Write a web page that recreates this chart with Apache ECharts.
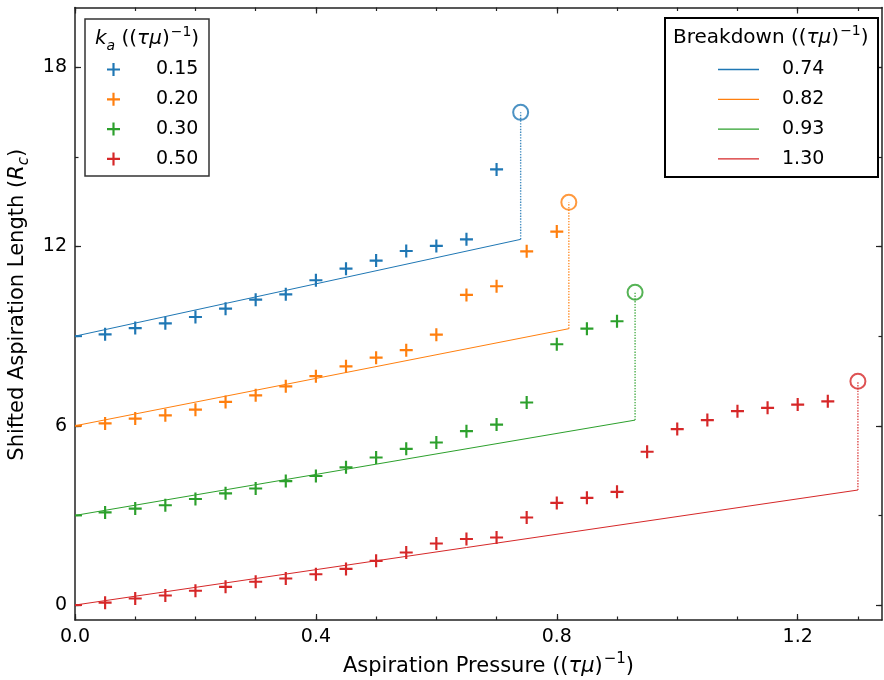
<!DOCTYPE html>
<html lang="en">
<head>
<meta charset="UTF-8">
<title>Shifted aspiration length</title>
<script src="https://cdn.jsdelivr.net/npm/echarts@6/dist/echarts.min.js"></script>
<style>
    body {
        margin: 0;
        padding: 0;
        background-color: #fff;
    }
    #chart {
        width: 884px;
        height: 680px;
    }
</style>
</head>
<body>
<div id="chart"></div>
<script>
// aspiration pressure, ((tau mu)^-1)
var pressure = [0.00, 0.05, 0.10, 0.15, 0.20, 0.25, 0.30, 0.35, 0.40, 0.45, 0.50, 0.55, 0.60,
                0.65, 0.70, 0.75, 0.80, 0.85, 0.90, 0.95, 1.00, 1.05, 1.10, 1.15, 1.20, 1.25];

// shifted aspiration length per k_a
var kaNames = ['0.15', '0.20', '0.30', '0.50'];
var lenKa015 = [9.00, 9.06, 9.27, 9.43, 9.64, 9.92, 10.22, 10.40, 10.87, 11.26, 11.53, 11.85, 12.02, 12.24, 14.58];
var lenKa020 = [6.00, 6.08, 6.24, 6.35, 6.54, 6.80, 7.02, 7.32, 7.66, 7.99, 8.28, 8.53, 9.05, 10.38, 10.67, 11.84, 12.50];
var lenKa030 = [3.00, 3.10, 3.23, 3.34, 3.55, 3.74, 3.90, 4.15, 4.32, 4.61, 4.94, 5.23, 5.44, 5.82, 6.04, 6.78, 8.73, 9.25, 9.50];
var lenKa050 = [0.00, 0.08, 0.22, 0.32, 0.48, 0.61, 0.78, 0.89, 1.03, 1.21, 1.48, 1.76, 2.06, 2.21, 2.26, 2.93, 3.42,
                3.59, 3.79, 5.13, 5.89, 6.19, 6.49, 6.60, 6.71, 6.82];
var lengths = [lenKa015, lenKa020, lenKa030, lenKa050];

// breakdown pressure, linear fit ends, breakdown length
var breakdownNames = ['0.74', '0.82', '0.93', '1.30'];
var breakdownP = [0.74, 0.82, 0.93, 1.30];
var fitStart = [9.00, 6.00, 3.00, 0.00];
var fitEnd = [12.24, 9.25, 6.19, 3.85];
var breakdownLen = [16.49, 13.48, 10.47, 7.49];

// ticks
var xMajor = [0, 0.4, 0.8, 1.2];
var xMinor = [0, 0.1, 0.2, 0.3, 0.4, 0.5, 0.6, 0.7, 0.8, 0.9, 1.0, 1.1, 1.2, 1.3];
var yMajor = [0, 6, 12, 18];
var yMinor = [0, 3, 6, 9, 12, 15, 18];

var colors = ['#1f77b4', '#ff7f0e', '#2ca02c', '#d62728'];
var font = 'DejaVu Sans';
var fs = 19;
var plusPath = 'path://M5,0H7V5H12V7H7V12H5V7H0V5H5Z';

function makeRich(size, key) {
    var sm = Math.round(size * 0.7);
    var st = {};
    st[key] = '#000';
    return {
        n: Object.assign({fontSize: size, fontFamily: font, lineHeight: size + 8}, st),
        i: Object.assign({fontSize: size, fontFamily: font, fontStyle: 'italic', lineHeight: size + 8}, st),
        sup: Object.assign({fontSize: sm, fontFamily: font, verticalAlign: 'top', lineHeight: sm, padding: [0, 0, 0, 1]}, st),
        sub: Object.assign({fontSize: sm, fontFamily: font, fontStyle: 'italic', verticalAlign: 'bottom', lineHeight: sm}, st)
    };
}
var nameRich = makeRich(21, 'color');
var titleRich = makeRich(20, 'fill');

function axis(pos, min, max, ticks, len, withLine, labels) {
    return {
        type: 'value',
        position: pos,
        min: min,
        max: max,
        splitLine: {show: false},
        axisLine: {show: withLine, onZero: false, lineStyle: {color: '#222', width: 1.5}},
        axisTick: {show: true, inside: true, length: len, customValues: ticks,
                   lineStyle: {color: '#222', width: 1.2}},
        axisLabel: labels ? {
            show: true, customValues: labels, margin: 8, color: '#000', fontSize: fs, fontFamily: font,
            formatter: function (v) { return pos === 'bottom' ? v.toFixed(1) : String(v); }
        } : {show: false}
    };
}

var xMain = axis('bottom', 0, 1.34, xMajor, 6, true, xMajor);
xMain.name = '{n|Aspiration Pressure ((}{i|τμ}{n|)}{sup|−1}{n|)}';
xMain.nameLocation = 'middle';
xMain.nameGap = 32;
xMain.nameTextStyle = {rich: nameRich, padding: [0, 0, 0, 20]};

var yMain = axis('left', -0.5, 20, yMajor, 6, true, yMajor);
yMain.name = '{n|Shifted Aspiration Length (}{i|R}{sub|c}{n|)}';
yMain.nameLocation = 'middle';
yMain.nameGap = 38;
yMain.nameTextStyle = {rich: nameRich, padding: [0, 0, 0, 18]};

var series = [];
lengths.forEach(function (ys, i) {
    series.push({
        name: kaNames[i],
        type: 'scatter',
        symbol: plusPath,
        symbolSize: 13,
        itemStyle: {color: colors[i], opacity: 1},
        z: 4,
        data: ys.map(function (y, j) {
            var x = pressure[j];
            if (x === 0) {
                // half marker, the rest sits under the spine
                return {value: [x, y], symbol: 'rect', symbolSize: [7, 2], symbolOffset: [3.5, 0]};
            }
            return [x, y];
        })
    });
});
breakdownP.forEach(function (bp, i) {
    series.push({
        name: breakdownNames[i],
        type: 'line',
        symbol: 'none',
        showSymbol: false,
        lineStyle: {color: colors[i], width: 1},
        itemStyle: {color: colors[i]},
        z: 3,
        data: [[0, fitStart[i]], [bp, fitEnd[i]]]
    });
    series.push({
        type: 'line',
        symbol: 'none',
        showSymbol: false,
        lineStyle: {color: colors[i], width: 1.4, type: 'dotted', opacity: 0.85},
        z: 3,
        data: [[bp, fitEnd[i]], [bp, breakdownLen[i]]]
    });
    series.push({
        type: 'scatter',
        symbol: 'circle',
        symbolSize: 15,
        itemStyle: {color: 'rgba(0,0,0,0)', borderColor: colors[i], borderWidth: 2},
        z: 4,
        data: [[bp, breakdownLen[i]]]
    });
});

var chart = echarts.init(document.getElementById('chart'));
chart.setOption({
    animation: false,
    backgroundColor: '#fff',
    grid: {left: 75, right: 2, top: 7.5, bottom: 60, containLabel: false, outerBoundsMode: 'none'},
    xAxis: [
        xMain,
        axis('bottom', 0, 1.34, xMinor, 3.5, false, null),
        axis('top', 0, 1.34, xMajor, 6, true, null),
        axis('top', 0, 1.34, xMinor, 3.5, false, null)
    ],
    yAxis: [
        yMain,
        axis('left', -0.5, 20, yMinor, 3.5, false, null),
        axis('right', -0.5, 20, yMajor, 6, true, null),
        axis('right', -0.5, 20, yMinor, 3.5, false, null)
    ],
    legend: [
        {
            data: kaNames, orient: 'vertical', left: 107, top: 60, padding: 0, z: 100,
            itemWidth: 13, itemHeight: 13, itemGap: 10.8, selectedMode: false,
            textStyle: {fontSize: fs, fontFamily: font, color: '#000', padding: [0, 0, 0, 31]}
        },
        {
            data: breakdownNames.map(function (n) { return {name: n, icon: 'rect'}; }),
            orient: 'vertical', left: 718, top: 60, padding: 0, z: 100,
            itemWidth: 41, itemHeight: 1.3, itemGap: 10.8, selectedMode: false,
            textStyle: {fontSize: fs, fontFamily: font, color: '#000', padding: [0, 0, 0, 18]}
        }
    ],
    graphic: [
        {type: 'rect', z: 50, shape: {x: 85, y: 19, width: 124, height: 157},
         style: {fill: '#fff', stroke: '#333', lineWidth: 1.5}},
        {type: 'rect', z: 50, shape: {x: 665, y: 18, width: 213, height: 159},
         style: {fill: '#fff', stroke: '#000', lineWidth: 2}},
        {type: 'text', z: 120, x: 95, y: 39,
         style: {text: '{i|k}{sub|a}{n| ((}{i|τμ}{n|)}{sup|−1}{n|)}', rich: titleRich, verticalAlign: 'middle'}},
        {type: 'text', z: 120, x: 673, y: 38,
         style: {text: '{n|Breakdown ((}{i|τμ}{n|)}{sup|−1}{n|)}', rich: titleRich, verticalAlign: 'middle'}}
    ],
    series: series
});
</script>
</body>
</html>
